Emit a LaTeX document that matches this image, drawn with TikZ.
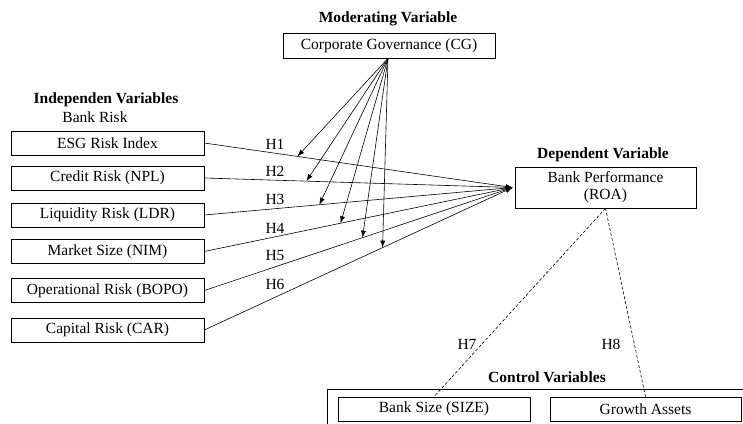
\documentclass[tikz,border=0pt]{standalone}
\usepackage{fontspec}
\setmainfont{Liberation Serif}
\usetikzlibrary{arrows.meta,calc}
\begin{document}
\begin{tikzpicture}[x=1pt,y=-1pt,
  every node/.style={font=\fontsize{15.5}{18}\selectfont, inner sep=0pt},
  varbox/.style={draw, line width=0.6pt, minimum width=193pt, minimum height=24pt},
  title/.style={font=\fontsize{15.5}{18}\selectfont\bfseries},
  hlab/.style={},
  link/.style={line width=0.6pt, -{Latex[length=7pt,width=5pt]}},
  modarrow/.style={line width=0.6pt, -{Latex[length=7pt,width=5pt]}},
  ctrl/.style={line width=0.6pt, dash pattern=on 3pt off 2pt}
]
\useasboundingbox (0,0) rectangle (743,423);

% titles
\node[title] (tmod) at (388,19) {Moderating Variable};
\node[title] (tind) at (106,100) {Independen Variables};
\node (tbr) at (95,117) {Bank Risk};
\node[title] (tdep) at (603,155) {Dependent Variable};
\node[title] (tctl) at (547,377) {Control Variables};

% moderating box
\node[draw, line width=0.6pt, minimum width=212pt, minimum height=25pt] (cg) at (389,45.5) {Corporate Governance (CG)};

% independent boxes
\node[varbox] (esg) at (107.5,143) {ESG Risk Index};
\node[varbox] (npl) at (107.5,178) {Credit Risk (NPL)};
\node[varbox] (ldr) at (107.5,215) {Liquidity Risk (LDR)};
\node[varbox] (nim) at (107.5,251.5) {Market Size (NIM)};
\node[varbox] (bopo) at (107.5,290.5) {Operational Risk (BOPO)};
\node[varbox] (car) at (107.5,330) {Capital Risk (CAR)};

% dependent box
\node[draw, line width=0.6pt, minimum width=181pt, minimum height=41pt, align=center] (roa) at (605.5,187.5) {Bank Performance\\[-1pt](ROA)};
\coordinate (T) at ([xshift=-2pt]roa.west);

% control area
\draw[line width=0.6pt] (760,440) -- (327,440) -- (327,389) -- (760,389);
\node[varbox, minimum width=192pt] (size) at (434,409) {Bank Size (SIZE)};
\node[varbox, minimum width=191pt] (ga) at (645.5,409) {Growth Assets};

% main links
\draw[link] (esg.east) -- (T);
\draw[link] (npl.east) -- (T);
\draw[link] (ldr.east) -- (T);
\draw[link] (nim.east) -- (T);
\draw[link] (bopo.east) -- (T);
\draw[link] (car.east) -- (T);

% moderating arrows
\coordinate (cgo) at ([xshift=-1pt]cg.south);
\draw[modarrow] (cgo) -- ($(esg.east)!0.302!(T)$);
\draw[modarrow] (cgo) -- ($(npl.east)!0.331!(T)$);
\draw[modarrow] (cgo) -- ($(ldr.east)!0.373!(T)$);
\draw[modarrow] (cgo) -- ($(nim.east)!0.442!(T)$);
\draw[modarrow] (cgo) -- ($(bopo.east)!0.513!(T)$);
\draw[modarrow] (cgo) -- ($(car.east)!0.578!(T)$);

% hypothesis labels
\node[hlab] (h1) at (275,144) {H1};
\node[hlab] (h2) at (275,171) {H2};
\node[hlab] (h3) at (275,199) {H3};
\node[hlab] (h4) at (275,228) {H4};
\node[hlab] (h5) at (275,255) {H5};
\node[hlab] (h6) at (275,284) {H6};
\node[hlab] (h7) at (467,344) {H7};
\node[hlab] (h8) at (611,344) {H8};

% control links
\draw[ctrl] (roa.south) -- (size.north);
\draw[ctrl] (roa.south) -- (ga.north);
\end{tikzpicture}
\end{document}
